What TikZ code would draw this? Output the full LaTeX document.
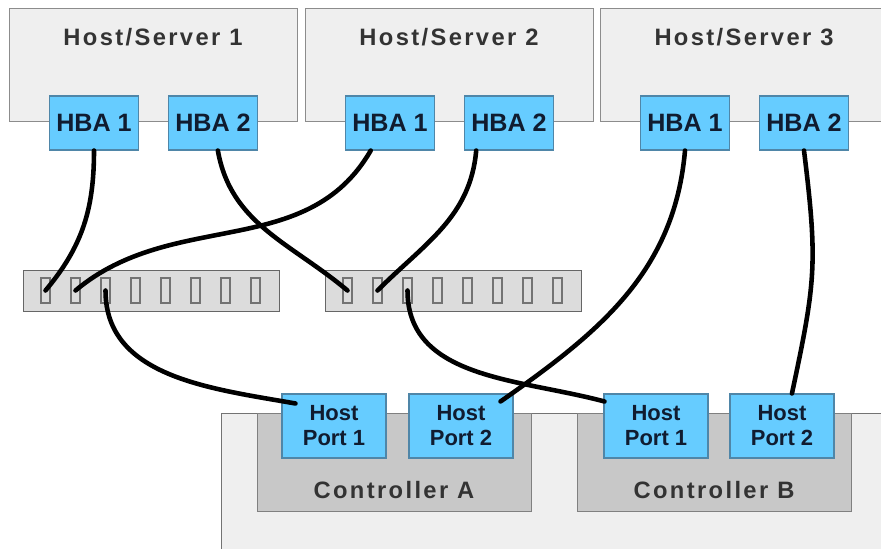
\documentclass[tikz,border=0pt]{standalone}
\usepackage{fontspec}
\setmainfont{Liberation Sans}
\usetikzlibrary{calc}
\definecolor{serverfill}{HTML}{EFEFEF}
\definecolor{serverline}{HTML}{8C8C8C}
\definecolor{hbafill}{HTML}{66CCFF}
\definecolor{hbaline}{HTML}{4F86A8}
\definecolor{switchfill}{HTML}{DCDCDC}
\definecolor{ctrlfill}{HTML}{C8C8C8}
\colorlet{titletext}{black!80}
\definecolor{porttext}{HTML}{101C30}
\newcommand\widefont{\bfseries\fontsize{13.5}{16}\selectfont\addfontfeature{LetterSpace=10}}
\tikzset{
  serverbox/.style={draw=serverline,fill=serverfill,line width=0.7pt,
    minimum width=5.76cm,minimum height=2.26cm,inner sep=0pt,anchor=north west},
  hbabox/.style={draw=hbaline,fill=hbafill,line width=0.6pt,
    minimum width=1.78cm,minimum height=1.08cm,inner sep=0pt,
    text=porttext,font=\bfseries\fontsize{14.3}{16}\selectfont},
  switchbox/.style={draw=black!60,fill=switchfill,line width=0.7pt,
    minimum width=5.12cm,minimum height=0.82cm,inner sep=0pt,anchor=north west},
  slotbox/.style={draw=black!55,fill=switchfill,line width=0.6pt,
    minimum width=0.18cm,minimum height=0.5cm,inner sep=0pt},
  enclosure/.style={draw=black!55,fill=serverfill,line width=0.7pt,
    minimum width=14cm,minimum height=3cm,inner sep=0pt,anchor=north west},
  ctrlbox/.style={draw=black!50,fill=ctrlfill,line width=0.7pt,
    minimum width=5.48cm,minimum height=1.96cm,inner sep=0pt,anchor=north west},
  hostport/.style={hbabox,minimum width=2.08cm,minimum height=1.28cm,align=center,
    font=\bfseries\fontsize{12.5}{14.2}\selectfont},
  boxtitle/.style={text=titletext,font=\widefont,inner sep=0pt},
  cable/.style={draw=black,line width=2.6pt,line cap=round},
}

\begin{document}
\begin{tikzpicture}[x=0.02cm,y=-0.02cm]
\useasboundingbox[fill=white] (0,0) rectangle (881,548);
\foreach \n/\x in {1/9,2/305,3/600}
{
  \node[serverbox] (host\n) at (\x,8) {};
  \node[boxtitle] (host\n-title) at (\x+144,37) {Host/Server \n};
  \node[hbabox] (hba\n-1) at (\x+85,123) {HBA 1};
  \node[hbabox] (hba\n-2) at (\x+204,123) {HBA 2};
}
\foreach \s/\x in {1/23,2/325}
{
  \node[switchbox] (switch\s) at (\x,270) {};
  \foreach \p in {1,...,8}
    \node[slotbox] (switch\s-\p) at (\x+22.5+30*\p-30,290.5) {};
}
\node[enclosure] (storage) at (221,413) {};
\node[ctrlbox] (ctrlA) at (257,413) {};
\node[ctrlbox] (ctrlB) at (577,413) {};
\node[boxtitle] (ctrlA-title) at (394,490) {Controller A};
\node[boxtitle] (ctrlB-title) at (714,490) {Controller B};
\node[hostport] (portA-1) at (334,426) {Host\\Port 1};
\node[hostport] (portA-2) at (461,426) {Host\\Port 2};
\node[hostport] (portB-1) at (656,426) {Host\\Port 1};
\node[hostport] (portB-2) at (782,426) {Host\\Port 2};
\coordinate (a1-end) at ($(portA-1.north west)+(14,10)$);
\coordinate (a2-end) at ($(portA-2.north east)+(-13,8)$);
\coordinate (b1-end) at ($(portB-1.north west)+(1,8)$);
\draw[cable] (hba1-1.south) to[out=-90,in=50] (switch1-1.center);
\draw[cable] (hba2-1.-125) to[out=-120,in=40] (switch1-2.center);
\draw[cable] (hba1-2.-80) to[out=-80,in=140] (switch2-1.center);
\draw[cable] (hba2-2.-140) to[out=-95,in=45] (switch2-2.center);
\draw[cable] (switch1-3.center) to[out=-90,in=170] (a1-end);
\draw[cable] (hba3-1.south) to[out=-95,in=35] (a2-end);
\draw[cable] (switch2-3.center) to[out=-90,in=165] (b1-end);
\draw[cable] (hba3-2.south) to[out=-83,in=78,looseness=1.2] (portB-2.73);
\end{tikzpicture}
\end{document}
